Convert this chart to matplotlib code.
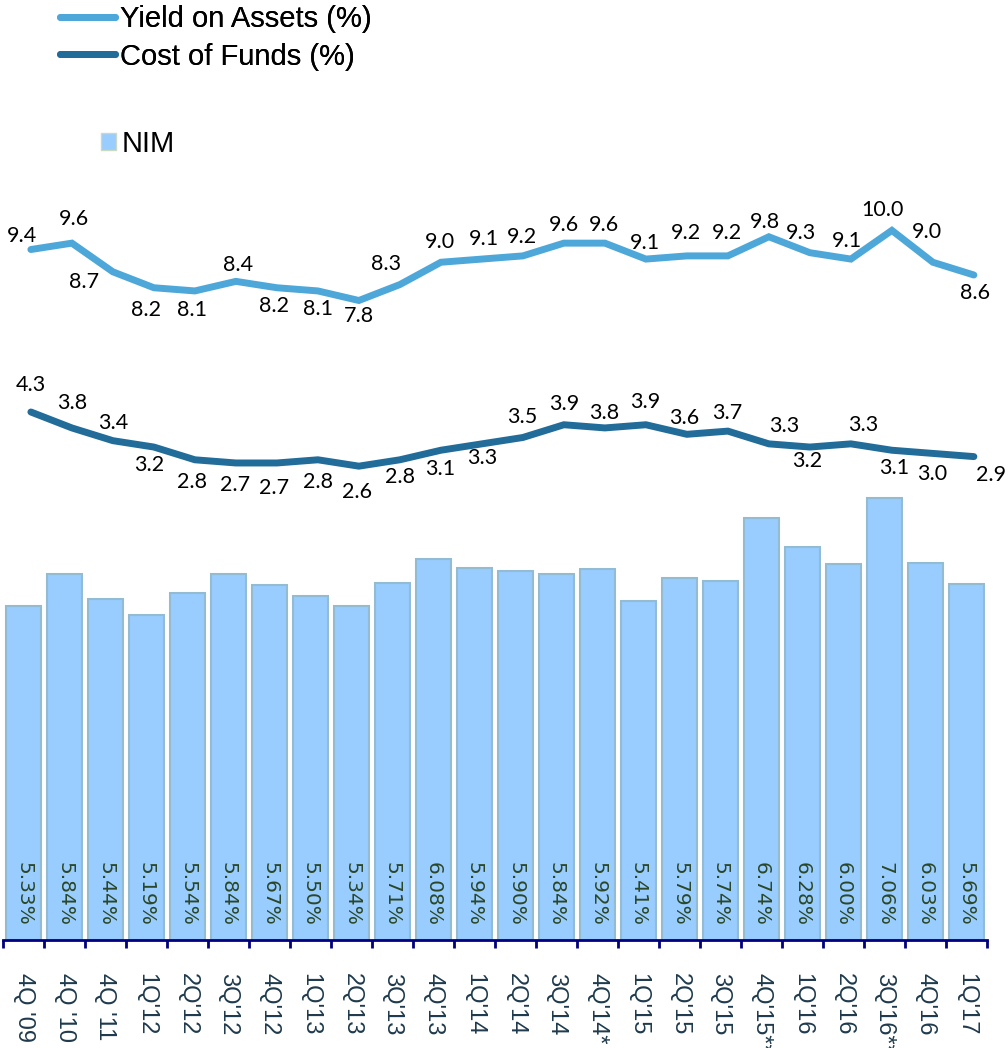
import matplotlib
matplotlib.use("Agg")
import matplotlib.pyplot as plt
from matplotlib.lines import Line2D
from matplotlib.patches import Patch
import numpy as np

# data
quarters = ["4Q '09", "4Q '10", "4Q '11", "1Q'12", "2Q'12", "3Q'12", "4Q'12", "1Q'13",
            "2Q'13", "3Q'13", "4Q'13", "1Q'14", "2Q'14", "3Q'14", "4Q'14*", "1Q'15",
            "2Q'15", "3Q'15", "4Q'15**", "1Q'16", "2Q'16", "3Q'16**", "4Q'16", "1Q'17"]
nim = [5.33, 5.84, 5.44, 5.19, 5.54, 5.84, 5.67, 5.50, 5.34, 5.71, 6.08, 5.94,
       5.90, 5.84, 5.92, 5.41, 5.79, 5.74, 6.74, 6.28, 6.00, 7.06, 6.03, 5.69]
yield_assets = [9.4, 9.6, 8.7, 8.2, 8.1, 8.4, 8.2, 8.1, 7.8, 8.3, 9.0, 9.1,
                9.2, 9.6, 9.6, 9.1, 9.2, 9.2, 9.8, 9.3, 9.1, 10.0, 9.0, 8.6]
cost_funds = [4.3, 3.8, 3.4, 3.2, 2.8, 2.7, 2.7, 2.8, 2.6, 2.8, 3.1, 3.3,
              3.5, 3.9, 3.8, 3.9, 3.6, 3.7, 3.3, 3.2, 3.3, 3.1, 3.0, 2.9]

# label offsets in pixels (dx, dy; dy positive = up)
yoa_dx = [-9, 2, -29, -8, -3, 2, -3, 0, 0, -14, -1, 2, -1, 0, -1, -1, -1, -1, -4, -9, -4, -9, -6, 1]
yoa_dy = [14, 24, -10, -22, -19, 16, -18, -18, -16, 21, 20, 20, 19, 18, 18, 16, 23, 23, 15, 20, 18, 20, 30, -18]
cof_dx = [0, 0, 0, -5, -3, -1, -3, 0, -2, 0, -1, 0, -1, 0, -1, -1, -3, -1, 15, -3, 12, 2, -1, 17]
cof_dy = [27, 25, 18, -18, -22, -22, -25, -22, -26, -17, -19, -14, 20, 21, 15, 23, 16, 18, 18, -14, 19, -18, -21, -18]

C_YOA = '#4EA7D9'
C_COF = '#226C9A'
C_BAR = '#99CCFF'

fig = plt.figure(figsize=(10.08, 10.48), dpi=100)
W, H = 1008, 1048
ax = fig.add_axes([3 / W, (H - 940) / H, 984 / W, 740 / H])

x = np.arange(len(quarters))
ax.bar(x, nim, width=0.85, color=C_BAR, edgecolor='#93BCD2', linewidth=1.5, zorder=2)
ax.set_xlim(-0.5, len(quarters) - 0.5)
ax.set_ylim(0, 740 / 62.6)

for xi, v in zip(x, nim):
    ax.text(xi, 0.062, f"{v:.2f}%", transform=ax.get_xaxis_transform(),
            rotation=-90, ha='center', va='center', fontsize=14.5,
            color='#2A4726', family='DejaVu Sans', zorder=3)

for s in ['top', 'left', 'right']:
    ax.spines[s].set_visible(False)
ax.spines['bottom'].set_color('#000080')
ax.spines['bottom'].set_linewidth(2)
ax.set_yticks([])
ax.set_xticks(x)
ax.set_xticklabels(quarters, rotation=-90, fontsize=17, color='#1E3A4C',
                   family='Liberation Sans', va='top', ha='center')
ax.tick_params(axis='x', which='major', length=0, pad=24)
ax.set_xticks(np.arange(-0.5, len(quarters)), minor=True)
ax.tick_params(axis='x', which='minor', length=6, width=2, color='#000080', direction='out')

# lines on their own scale
ax2 = ax.twinx()
ax2.set_ylim(-391 / 31.86, 349 / 31.86)
xl = x + 0.18
ax2.plot(xl, yield_assets, color=C_YOA, linewidth=5, solid_capstyle='round',
         solid_joinstyle='miter', zorder=3)
ax2.plot(xl, cost_funds, color=C_COF, linewidth=5, solid_capstyle='round',
         solid_joinstyle='miter', zorder=3)
ax2.set_yticks([])
for s in ax2.spines.values():
    s.set_visible(False)

for xi, v, dx, dy in zip(xl, yield_assets, yoa_dx, yoa_dy):
    ax2.annotate(f"{v:.1f}", (xi, v), xytext=(dx, dy), textcoords='offset pixels',
                 ha='center', va='center', fontsize=15.5, family='Lato', color='black')
for xi, v, dx, dy in zip(xl, cost_funds, cof_dx, cof_dy):
    ax2.annotate(f"{v:.1f}", (xi, v), xytext=(dx, dy), textcoords='offset pixels',
                 ha='center', va='center', fontsize=15.5, family='Lato', color='black',
                 annotation_clip=False)

# legends
line_handles = [Line2D([], [], color=C_YOA, linewidth=5, solid_capstyle='round'),
                Line2D([], [], color=C_COF, linewidth=5, solid_capstyle='round')]
leg1 = fig.legend(line_handles, ['Yield on Assets (%)', 'Cost of Funds (%)'],
                  loc='upper left', bbox_to_anchor=(60 / W, 1 - 5 / H), frameon=False,
                  prop={'family': 'Liberation Sans', 'size': 21}, handlelength=1.9,
                  handletextpad=0.15, labelspacing=0.33, borderpad=0, borderaxespad=0)
fig.add_artist(leg1)
fig.legend([Patch(facecolor=C_BAR, edgecolor='#C9D9C4', linewidth=1)], ['NIM'],
           loc='upper left', bbox_to_anchor=(101 / W, 1 - 130 / H), frameon=False,
           prop={'family': 'Liberation Sans', 'size': 21}, handlelength=0.52,
           handleheight=0.52, handletextpad=0.2, borderpad=0, borderaxespad=0)

fig.savefig('out.png', dpi=100)
